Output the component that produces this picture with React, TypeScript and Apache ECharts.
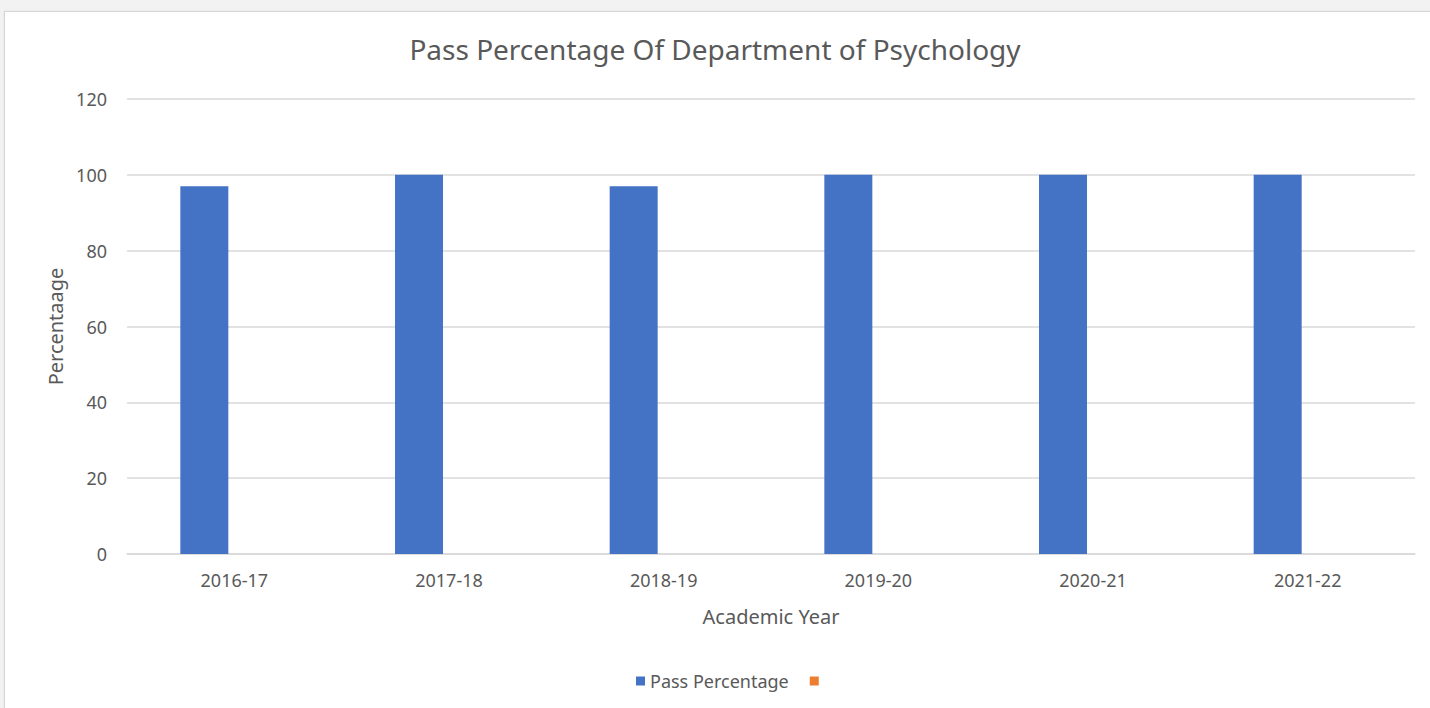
import React, { useEffect, useRef } from "react";
import * as echarts from "echarts";

const categories = ["2016-17", "2017-18", "2018-19", "2019-20", "2020-21", "2021-22"];
const passPercentage = [97, 100, 97, 100, 100, 100];
const emptySeries: (number | null)[] = [null, null, null, null, null, null];
const yTicks = { min: 0, max: 120, interval: 20 };

const FONT = "'Noto Sans', sans-serif";
const TEXT = "#595959";

export default function App() {
  const ref = useRef<HTMLDivElement>(null);
  useEffect(() => {
    if (!ref.current) return;
    const chart = echarts.init(ref.current, null, { renderer: "svg" });
    chart.setOption({
      animation: false,
      backgroundColor: "transparent",
      textStyle: { fontFamily: FONT },
      title: {
        text: "Pass Percentage Of Department of Psychology",
        left: "center",
        top: 30,
        textStyle: { fontFamily: FONT, fontSize: 28, fontWeight: "normal", color: TEXT },
      },
      legend: {
        bottom: 13,
        left: 631,
        icon: "rect",
        itemWidth: 9,
        itemHeight: 9,
        itemGap: 21,
        textStyle: { fontFamily: FONT, fontSize: 18, color: TEXT },
        data: ["Pass Percentage", " "],
      },
      grid: { left: 127, right: 15, top: 99, bottom: 154 },
      xAxis: {
        type: "category",
        data: categories,
        name: "Academic Year",
        nameLocation: "middle",
        nameGap: 52,
        nameTextStyle: { fontFamily: FONT, fontSize: 20, color: TEXT },
        axisLine: { lineStyle: { color: "#d9d9d9", width: 1.5 } },
        axisTick: { show: false },
        axisLabel: { fontFamily: FONT, fontSize: 18, color: TEXT, margin: 17 },
      },
      yAxis: {
        type: "value",
        min: yTicks.min,
        max: yTicks.max,
        interval: yTicks.interval,
        name: "Percentaage",
        nameLocation: "middle",
        nameRotate: 90,
        nameGap: 60,
        nameTextStyle: { fontFamily: FONT, fontSize: 20, color: TEXT },
        axisLine: { show: false },
        axisTick: { show: false },
        axisLabel: { fontFamily: FONT, fontSize: 18, color: TEXT, margin: 20 },
        splitLine: { lineStyle: { color: "#d9d9d9", width: 1.5 } },
      },
      series: [
        {
          name: "Pass Percentage",
          type: "bar",
          data: passPercentage,
          barWidth: 48,
          barGap: "25%",
          itemStyle: { color: "#4472C4" },
        },
        {
          name: " ",
          type: "bar",
          data: emptySeries,
          barWidth: 48,
          itemStyle: { color: "#ED7D31" },
        },
      ],
    });
    return () => chart.dispose();
  }, []);

  return (
    <div style={{ position: "fixed", left: 0, top: 0, width: 1430, height: 708, background: "#f2f2f2", overflow: "hidden" }}>
      <div
        style={{
          position: "absolute",
          left: 4,
          top: 11,
          width: 1440,
          height: 720,
          background: "#ffffff",
          borderLeft: "1px solid #d6d6d6",
          borderTop: "1px solid #d6d6d6",
          boxShadow: "0 0 2px rgba(0,0,0,0.08)",
        }}
      />
      <div ref={ref} style={{ position: "absolute", left: 0, top: 0, width: 1430, height: 708 }} />
    </div>
  );
}
